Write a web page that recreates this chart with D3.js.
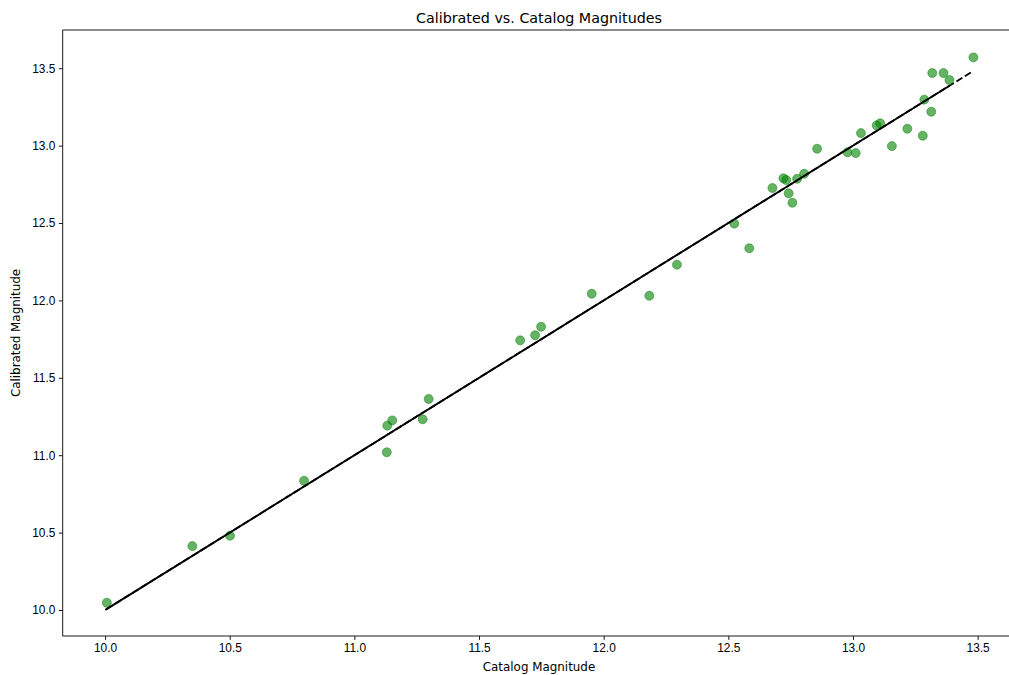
<!DOCTYPE html>
<html>
<head>
<meta charset="utf-8">
<script src="https://cdn.jsdelivr.net/npm/d3@7"></script>
<style>
  html, body { margin: 0; padding: 0; background: #fff; }
  svg { display: block; font-family: "DejaVu Sans", sans-serif; }
  .tick text { fill: #000; }
</style>
</head>
<body>
<div id="chart"></div>
<script>
// catalog vs calibrated magnitudes
const catalogMag = [
  10.007, 10.350, 10.501, 10.798, 11.130, 11.132, 11.152, 11.274, 11.298, 11.665,
  11.725, 11.749, 11.952, 12.183, 12.294, 12.524, 12.584, 12.677, 12.721, 12.732,
  12.742, 12.757, 12.776, 12.804, 12.856, 12.978, 13.011, 13.032, 13.095, 13.109,
  13.156, 13.218, 13.280, 13.286, 13.314, 13.318, 13.363, 13.387, 13.483
];
const calibratedMag = [
  10.047, 10.413, 10.480, 10.835, 11.019, 11.191, 11.225, 11.232, 11.363, 11.742,
  11.775, 11.830, 12.043, 12.030, 12.231, 12.496, 12.337, 12.726, 12.789, 12.778,
  12.692, 12.631, 12.786, 12.818, 12.980, 12.957, 12.952, 13.081, 13.131, 13.144,
  12.997, 13.109, 13.064, 13.297, 13.219, 13.469, 13.469, 13.424, 13.570
];

// fitted relation (solid) and 1:1 reference (dashed)
const fitCoef = [1.0, 0.0];          // slope, intercept
const fitRange = [10.001, 13.387];
const oneToOneRange = [10.007, 13.483];

const xTicks = [10.0, 10.5, 11.0, 11.5, 12.0, 12.5, 13.0, 13.5];
const yTicks = [10.0, 10.5, 11.0, 11.5, 12.0, 12.5, 13.0, 13.5];

const width = 1009, height = 675;
const plotLeft = 62.7, plotTop = 30, plotBottom = 636;

const svg = d3.select('#chart').append('svg')
  .attr('width', width)
  .attr('height', height);

// right spine falls outside the picture, as in the reference
const x = d3.scaleLinear().domain([9.83, 13.655]).range([plotLeft, plotLeft + 3.825 * 249.3]);
const y = d3.scaleLinear().domain([9.832, 13.747]).range([plotBottom, plotTop]);
const plotRight = x.range()[1];

const fontSize = 11.9;

// title
svg.append('text')
  .attr('x', 539)
  .attr('y', 22.5)
  .attr('text-anchor', 'middle')
  .style('font-size', '14.3px')
  .text('Calibrated vs. Catalog Magnitudes');

// axes
const xAxis = svg.append('g')
  .attr('transform', `translate(0,${plotBottom})`)
  .call(d3.axisBottom(x).tickValues(xTicks).tickFormat(d3.format('.1f')).tickSize(3.9).tickPadding(3.5));
xAxis.select('.domain').remove();
xAxis.selectAll('text').style('font-size', fontSize + 'px');

const yAxis = svg.append('g')
  .attr('transform', `translate(${plotLeft},0)`)
  .call(d3.axisLeft(y).tickValues(yTicks).tickFormat(d3.format('.1f')).tickSize(3.9).tickPadding(3.5));
yAxis.select('.domain').remove();
yAxis.selectAll('text').style('font-size', fontSize + 'px');

svg.selectAll('.tick line').attr('stroke', '#000').attr('stroke-width', 0.9);

// axis labels
svg.append('text')
  .attr('x', 539)
  .attr('y', 671)
  .attr('text-anchor', 'middle')
  .style('font-size', fontSize + 'px')
  .text('Catalog Magnitude');

svg.append('text')
  .attr('transform', `translate(20,${(plotTop + plotBottom) / 2}) rotate(-90)`)
  .attr('text-anchor', 'middle')
  .style('font-size', fontSize + 'px')
  .text('Calibrated Magnitude');

// plot area clip
svg.append('clipPath').attr('id', 'plot-clip')
  .append('rect')
  .attr('x', plotLeft).attr('y', plotTop)
  .attr('width', plotRight - plotLeft).attr('height', plotBottom - plotTop);

const plot = svg.append('g').attr('clip-path', 'url(#plot-clip)');

const line = d3.line().x(d => x(d[0])).y(d => y(d[1]));

// 1:1 line, dashed
plot.append('path')
  .datum(oneToOneRange.map(v => [v, v]))
  .attr('d', line)
  .attr('fill', 'none')
  .attr('stroke', '#000')
  .attr('stroke-width', 1.8)
  .attr('stroke-dasharray', '7,3');

// points
plot.append('g')
  .selectAll('circle')
  .data(catalogMag.map((c, i) => [c, calibratedMag[i]]))
  .enter().append('circle')
  .attr('cx', d => x(d[0]))
  .attr('cy', d => y(d[1]))
  .attr('r', 4.5)
  .attr('fill', 'green')
  .attr('fill-opacity', 0.6)
  .attr('stroke', 'green')
  .attr('stroke-opacity', 0.6)
  .attr('stroke-width', 0.8);

// fitted line, solid
plot.append('path')
  .datum(fitRange.map(v => [v, fitCoef[0] * v + fitCoef[1]]))
  .attr('d', line)
  .attr('fill', 'none')
  .attr('stroke', '#000')
  .attr('stroke-width', 1.9);

// spines
svg.append('path')
  .attr('d', `M${plotRight},${plotTop}H${plotLeft}V${plotBottom}H${plotRight}`)
  .attr('fill', 'none')
  .attr('stroke', '#000')
  .attr('stroke-width', 0.9);
</script>
</body>
</html>
